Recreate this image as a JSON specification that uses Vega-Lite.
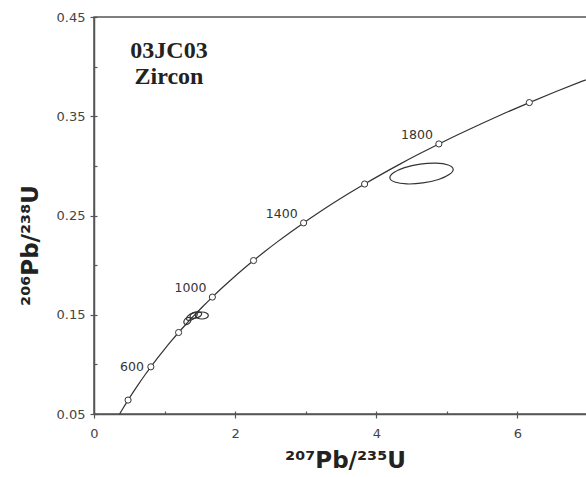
{
  "$schema": "https://vega.github.io/schema/vega-lite/v6.json",
  "width": 494,
  "height": 397,
  "autosize": "none",
  "padding": {"left": 94, "top": 17, "right": 0, "bottom": 63},
  "background": "white",
  "config": {
    "view": {"stroke": "#555", "strokeWidth": 1.5},
    "axis": {
      "domainColor": "#555", "domainWidth": 1.5,
      "tickColor": "#555", "tickWidth": 1.2,
      "labelFont": "DejaVu Sans", "labelFontSize": 13, "labelColor": "#444",
      "titleFont": "DejaVu Sans", "titleFontWeight": "bold", "titleFontSize": 23, "titleColor": "#222",
      "grid": false
    }
  },
  "resolve": {"axis": {"x": "independent", "y": "independent"}},
  "datasets": {
    "concordia": [
      {"t": 300, "x": 0.343738, "y": 0.047637},
      {"t": 350, "x": 0.411563, "y": 0.055795},
      {"t": 400, "x": 0.482811, "y": 0.064016},
      {"t": 450, "x": 0.557657, "y": 0.072300},
      {"t": 500, "x": 0.636280, "y": 0.080650},
      {"t": 550, "x": 0.718870, "y": 0.089064},
      {"t": 600, "x": 0.805631, "y": 0.097544},
      {"t": 650, "x": 0.896771, "y": 0.106090},
      {"t": 700, "x": 0.992510, "y": 0.114702},
      {"t": 750, "x": 1.093082, "y": 0.123382},
      {"t": 800, "x": 1.198730, "y": 0.132129},
      {"t": 850, "x": 1.309711, "y": 0.140944},
      {"t": 900, "x": 1.426295, "y": 0.149828},
      {"t": 950, "x": 1.548762, "y": 0.158781},
      {"t": 1000, "x": 1.677409, "y": 0.167804},
      {"t": 1050, "x": 1.812552, "y": 0.176897},
      {"t": 1100, "x": 1.954514, "y": 0.186061},
      {"t": 1150, "x": 2.103653, "y": 0.195296},
      {"t": 1200, "x": 2.260302, "y": 0.204603},
      {"t": 1250, "x": 2.424867, "y": 0.213983},
      {"t": 1300, "x": 2.597739, "y": 0.223435},
      {"t": 1350, "x": 2.779333, "y": 0.232961},
      {"t": 1400, "x": 2.970094, "y": 0.242562},
      {"t": 1450, "x": 3.170489, "y": 0.252237},
      {"t": 1500, "x": 3.380984, "y": 0.262002},
      {"t": 1550, "x": 3.602103, "y": 0.271813},
      {"t": 1600, "x": 3.834413, "y": 0.281716},
      {"t": 1650, "x": 4.078381, "y": 0.291697},
      {"t": 1700, "x": 4.334765, "y": 0.301754},
      {"t": 1750, "x": 4.604038, "y": 0.311890},
      {"t": 1800, "x": 4.886886, "y": 0.322105},
      {"t": 1850, "x": 5.184022, "y": 0.332399},
      {"t": 1900, "x": 5.496168, "y": 0.342774},
      {"t": 1950, "x": 5.824081, "y": 0.353229},
      {"t": 2000, "x": 6.168527, "y": 0.363766},
      {"t": 2050, "x": 6.530359, "y": 0.374385},
      {"t": 2100, "x": 6.910449, "y": 0.385086},
      {"t": 2150, "x": 7.309732, "y": 0.395871}
    ],
    "ellipses": [
      {"id": "E1", "i": 0, "x": 5.0894, "y": 0.2968},
      {"id": "E1", "i": 1, "x": 5.0199, "y": 0.3009},
      {"id": "E1", "i": 2, "x": 4.8490, "y": 0.3028},
      {"id": "E1", "i": 3, "x": 4.6223, "y": 0.3018},
      {"id": "E1", "i": 4, "x": 4.4006, "y": 0.2983},
      {"id": "E1", "i": 5, "x": 4.2434, "y": 0.2931},
      {"id": "E1", "i": 6, "x": 4.1926, "y": 0.2878},
      {"id": "E1", "i": 7, "x": 4.2621, "y": 0.2837},
      {"id": "E1", "i": 8, "x": 4.4330, "y": 0.2818},
      {"id": "E1", "i": 9, "x": 4.6597, "y": 0.2828},
      {"id": "E1", "i": 10, "x": 4.8814, "y": 0.2863},
      {"id": "E1", "i": 11, "x": 5.0386, "y": 0.2915},
      {"id": "S1", "i": 0, "x": 1.3630, "y": 0.14655},
      {"id": "S1", "i": 1, "x": 1.3301, "y": 0.14723},
      {"id": "S1", "i": 2, "x": 1.2930, "y": 0.14584},
      {"id": "S1", "i": 3, "x": 1.2735, "y": 0.14320},
      {"id": "S1", "i": 4, "x": 1.2830, "y": 0.14085},
      {"id": "S1", "i": 5, "x": 1.3159, "y": 0.14017},
      {"id": "S1", "i": 6, "x": 1.3530, "y": 0.14156},
      {"id": "S1", "i": 7, "x": 1.3725, "y": 0.14420},
      {"id": "S2", "i": 0, "x": 1.4602, "y": 0.15126},
      {"id": "S2", "i": 1, "x": 1.4237, "y": 0.15223},
      {"id": "S2", "i": 2, "x": 1.3655, "y": 0.15086},
      {"id": "S2", "i": 3, "x": 1.3197, "y": 0.14795},
      {"id": "S2", "i": 4, "x": 1.3132, "y": 0.14522},
      {"id": "S2", "i": 5, "x": 1.3497, "y": 0.14425},
      {"id": "S2", "i": 6, "x": 1.4079, "y": 0.14562},
      {"id": "S2", "i": 7, "x": 1.4537, "y": 0.14853},
      {"id": "S3", "i": 0, "x": 1.5253, "y": 0.15131},
      {"id": "S3", "i": 1, "x": 1.4935, "y": 0.15292},
      {"id": "S3", "i": 2, "x": 1.4323, "y": 0.15267},
      {"id": "S3", "i": 3, "x": 1.3775, "y": 0.15071},
      {"id": "S3", "i": 4, "x": 1.3613, "y": 0.14819},
      {"id": "S3", "i": 5, "x": 1.3931, "y": 0.14658},
      {"id": "S3", "i": 6, "x": 1.4543, "y": 0.14683},
      {"id": "S3", "i": 7, "x": 1.5091, "y": 0.14879},
      {"id": "S4", "i": 0, "x": 1.6202, "y": 0.14924},
      {"id": "S4", "i": 1, "x": 1.5932, "y": 0.15173},
      {"id": "S4", "i": 2, "x": 1.5282, "y": 0.15277},
      {"id": "S4", "i": 3, "x": 1.4632, "y": 0.15173},
      {"id": "S4", "i": 4, "x": 1.4362, "y": 0.14924},
      {"id": "S4", "i": 5, "x": 1.4632, "y": 0.14675},
      {"id": "S4", "i": 6, "x": 1.5282, "y": 0.14571},
      {"id": "S4", "i": 7, "x": 1.5932, "y": 0.14675}
    ]
  },
  "layer": [
    {
      "data": {"name": "concordia"},
      "mark": {"type": "line", "color": "#333", "strokeWidth": 1.2, "interpolate": "monotone", "clip": true},
      "encoding": {
        "x": {
          "field": "x", "type": "quantitative",
          "scale": {"domain": [0, 7], "nice": false, "zero": false},
          "axis": {
            "orient": "bottom",
            "values": [0, 2, 4, 6],
            "format": "d",
            "labelFlush": false,
            "labelOverlap": false,
            "tickSize": 4,
            "labelPadding": 9,
            "title": "²⁰⁷Pb/²³⁵U",
            "titleX": 251,
            "titleY": 53,
            "titleAlign": "center",
            "titleBaseline": "alphabetic"
          }
        },
        "y": {
          "field": "y", "type": "quantitative",
          "scale": {"domain": [0.05, 0.45], "nice": false, "zero": false},
          "axis": {
            "orient": "left",
            "values": [0.05, 0.15, 0.25, 0.35, 0.45],
            "format": ".2f",
            "labelFlush": false,
            "labelOverlap": false,
            "tickSize": 4,
            "labelPadding": 5,
            "title": "²⁰⁶Pb/²³⁸U",
            "titleX": -57,
            "titleY": 228,
            "titleAngle": -90,
            "titleAlign": "center",
            "titleBaseline": "alphabetic"
          }
        },
        "order": {"field": "t", "type": "quantitative"}
      }
    },
    {
      "data": {"name": "ellipses"},
      "mark": {"type": "line", "color": "#333", "strokeWidth": 1.2, "interpolate": "cardinal-closed", "clip": true},
      "encoding": {
        "x": {
          "field": "x", "type": "quantitative",
          "axis": {"orient": "bottom", "values": [0, 1, 2, 3, 4, 5, 6, 7], "tickSize": -3, "labels": false, "domain": false, "title": null}
        },
        "y": {
          "field": "y", "type": "quantitative",
          "axis": {"orient": "left", "values": [0.05, 0.1, 0.15, 0.2, 0.25, 0.3, 0.35, 0.4, 0.45], "tickSize": -3, "labels": false, "domain": false, "title": null}
        },
        "detail": {"field": "id", "type": "nominal"},
        "order": {"field": "i", "type": "quantitative"}
      }
    },
    {
      "data": {"name": "concordia"},
      "transform": [{"filter": "datum.t >= 400 && datum.t % 200 == 0"}],
      "mark": {"type": "point", "shape": "circle", "filled": true, "fill": "white", "stroke": "#333", "strokeWidth": 1, "size": 38, "opacity": 1},
      "encoding": {
        "x": {"field": "x", "type": "quantitative", "axis": null},
        "y": {"field": "y", "type": "quantitative", "axis": null}
      }
    },
    {
      "data": {"name": "concordia"},
      "transform": [{"filter": "datum.t == 600"}],
      "mark": {"type": "text", "align": "right", "baseline": "middle", "dx": -7, "font": "DejaVu Sans", "fontSize": 12.5, "color": "#333"},
      "encoding": {
        "x": {"field": "x", "type": "quantitative", "axis": null},
        "y": {"field": "y", "type": "quantitative", "axis": null},
        "text": {"field": "t", "type": "quantitative", "format": "d"}
      }
    },
    {
      "data": {"name": "concordia"},
      "transform": [{"filter": "datum.t == 1000 || datum.t == 1400 || datum.t == 1800"}],
      "mark": {"type": "text", "align": "right", "baseline": "middle", "dx": -6, "dy": -9, "font": "DejaVu Sans", "fontSize": 12.5, "color": "#333"},
      "encoding": {
        "x": {"field": "x", "type": "quantitative", "axis": null},
        "y": {"field": "y", "type": "quantitative", "axis": null},
        "text": {"field": "t", "type": "quantitative", "format": "d"}
      }
    },
    {
      "data": {"values": [{}]},
      "mark": {"type": "text", "text": ["03JC03", "Zircon"], "font": "Liberation Serif", "fontWeight": "bold", "fontSize": 24, "lineHeight": 26, "align": "center", "baseline": "alphabetic", "color": "#222"},
      "encoding": {
        "x": {"datum": 1.063, "type": "quantitative", "axis": null},
        "y": {"datum": 0.4087, "type": "quantitative", "axis": null}
      }
    }
  ]
}
